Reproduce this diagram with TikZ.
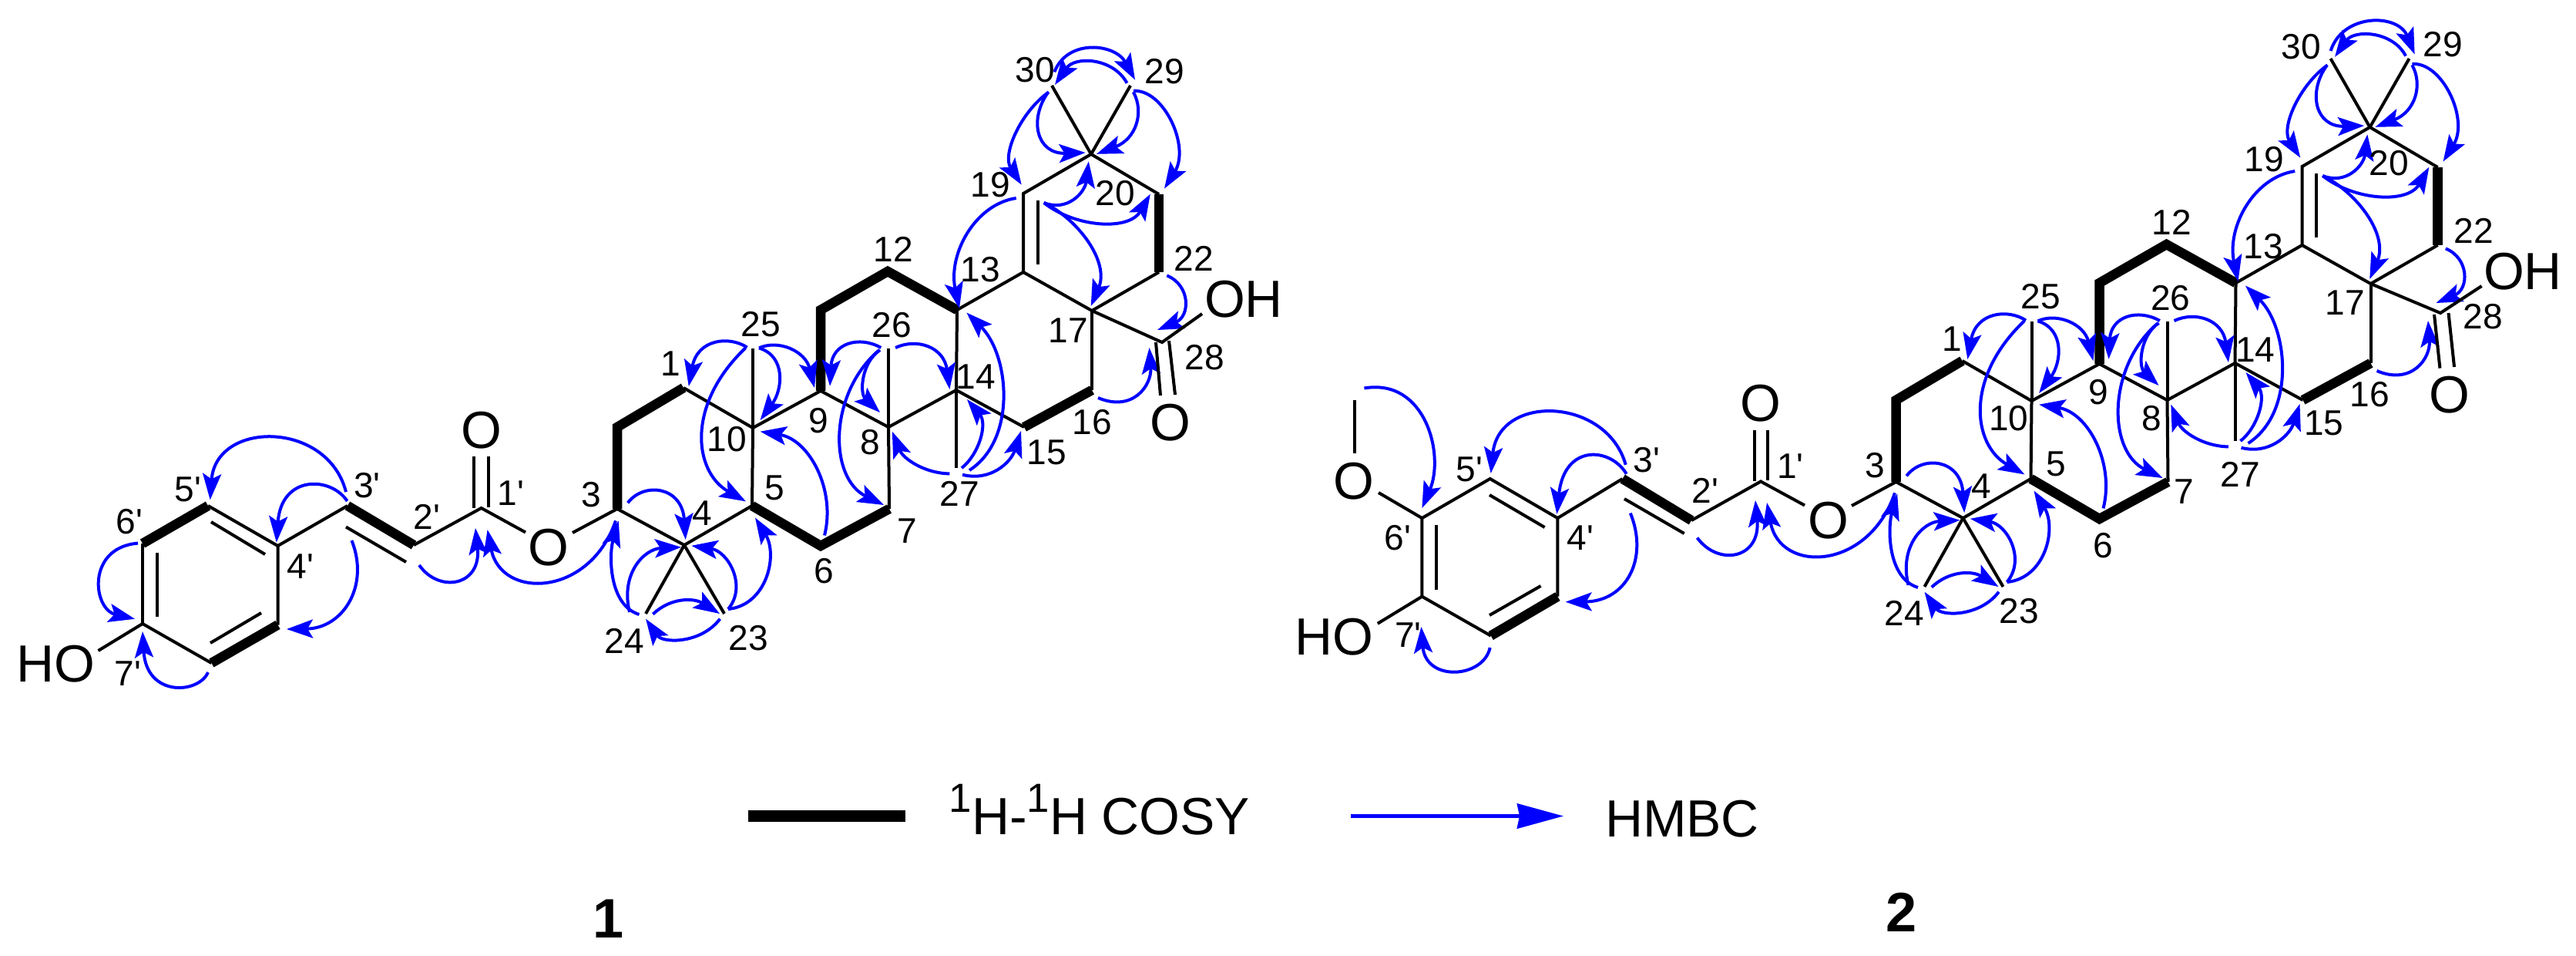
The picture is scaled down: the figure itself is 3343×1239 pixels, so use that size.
\documentclass[tikz,border=0pt]{standalone}
\usepackage{fontspec}
\usetikzlibrary{arrows.meta}
\newfontfamily\arialf{Liberation Sans}
\definecolor{hmbcblue}{RGB}{0,0,255}
\tikzset{
  x=0.01cm,y=-0.01cm,
  bond/.style={line width=0.04cm,black},
  cosy/.style={line width=0.125cm,black,line join=miter,miter limit=10},
  hmbc/.style={line width=0.04cm,hmbcblue,-{Stealth[length=0.34cm,width=0.24cm,inset=0.07cm]}},
  num/.style={font=\arialf\fontsize{13.1}{13.1}\selectfont,inner sep=0pt},
  atomlab/.style={font=\arialf\fontsize{19.3}{19.3}\selectfont,inner sep=0pt},
  boldlab/.style={font=\arialf\bfseries\fontsize{20.5}{20.5}\selectfont,inner sep=0pt},
}
% the triterpene skeleton, in the position it has in compound 1
\newcommand{\coreatoms}{
  \coordinate (C1) at (887,503); \coordinate (C2) at (801,554); \coordinate (C3) at (801,660);
  \coordinate (C4) at (888,707); \coordinate (C5) at (976,656); \coordinate (C6) at (1065,708);
  \coordinate (C7) at (1154,660); \coordinate (C8) at (1153,554); \coordinate (C9) at (1065,507);
  \coordinate (C10) at (977,555); \coordinate (C11) at (1065,402); \coordinate (C12) at (1152,352);
  \coordinate (C13) at (1242,402); \coordinate (C14) at (1241,506); \coordinate (C15) at (1329,554);
  \coordinate (C16) at (1417,506); \coordinate (C17) at (1417,403); \coordinate (C18) at (1328,353);
  \coordinate (C19) at (1328,251); \coordinate (C20) at (1416,200); \coordinate (C21) at (1504,252);
  \coordinate (C22) at (1504,353); \coordinate (C23) at (940,796); \coordinate (C24) at (838,796);
  \coordinate (C25) at (977,452); \coordinate (C26) at (1153,452); \coordinate (C27) at (1241,607);
  \coordinate (C29) at (1467,111); \coordinate (C30) at (1365,111);
  \coordinate (D19) at (1346.5,260); \coordinate (D18) at (1346.5,343);
}
\newcommand{\corebonds}{
  \draw[bond] (C1)--(C10)--(C5)--(C4)--(C3);
  \draw[bond] (C10)--(C9)--(C8)--(C7);
  \draw[bond] (C8)--(C14)--(C15);
  \draw[bond] (C14)--(C13)--(C18)--(C19)--(C20)--(C21);
  \draw[bond] (C18)--(C17)--(C22);
  \draw[bond] (C17)--(C16);
  \draw[bond] (D19)--(D18);
  \draw[bond] (C10)--(C25);
  \draw[bond] (C8)--(C26);
  \draw[bond] (C14)--(C27);
  \draw[bond] (C4)--(C23);
  \draw[bond] (C4)--(C24);
  \draw[bond] (C20)--(C29);
  \draw[bond] (C20)--(C30);
  \draw[cosy] (C3)--(C2)--(C1);
  \draw[cosy] (C5)--(C6)--(C7);
  \draw[cosy] (C9)--(C11)--(C12)--(C13);
  \draw[cosy] (C15)--(C16);
  \draw[cosy] (C21)--(C22);
}
\newcommand{\corearrows}{
  \draw[hmbc] (969.6,450.6) .. controls (946,435) and (905,440) .. (893.8,501);
  \draw[hmbc] (967.4,451.4) .. controls (890,525) and (900,612) .. (967.9,650.4);
  \draw[hmbc] (985,451.4) .. controls (1020,462) and (1016,505) .. (986.6,545);
  \draw[hmbc] (985,451.4) .. controls (1010,440) and (1045,455) .. (1057,503);
  \draw[hmbc] (1070,694.4) .. controls (1085,635) and (1050,570) .. (986.6,559.7);
  \draw[hmbc] (814.7,652.3) .. controls (835,625) and (885,630) .. (889.7,700);
  \draw[hmbc] (945,790) .. controls (995,785) and (1010,720) .. (980,671.5);
  \draw[hmbc] (945,790) .. controls (970,760) and (945,715) .. (897.3,707.8);
  \draw[hmbc] (817,794) .. controls (805,745) and (835,712) .. (884,709.7);
  \draw[hmbc] (829.5,797) .. controls (790,785) and (790,720) .. (802.7,675.3);
  \draw[hmbc] (847.3,796.6) .. controls (870,775) and (900,775) .. (934,796);
  \draw[hmbc] (934.4,802.7) .. controls (910,835) and (860,835) .. (838,802.7);
  \draw[hmbc] (1143.3,451) .. controls (1115,435) and (1080,445) .. (1077,500.8);
  \draw[hmbc] (1141,454) .. controls (1075,510) and (1075,620) .. (1147,655);
  \draw[hmbc] (1142,454) .. controls (1118,470) and (1115,510) .. (1142,535);
  \draw[hmbc] (1162,451) .. controls (1190,438) and (1225,450) .. (1232.4,505);
  \draw[hmbc] (1232.4,614.4) .. controls (1200,614) and (1172,595) .. (1157.8,559.7);
  \draw[hmbc] (1248,607) .. controls (1270,590) and (1282,550) .. (1255,518);
  \draw[hmbc] (1249,615.7) .. controls (1285,625) and (1312,600) .. (1325,559);
  \draw[hmbc] (1258,610) .. controls (1320,570) and (1310,460) .. (1254.4,405.5);
  \draw[hmbc] (1425,516) .. controls (1470,535) and (1495,500) .. (1491.5,451);
  \draw[hmbc] (1514.3,357.4) .. controls (1545,370) and (1545,410) .. (1502,428);
  \draw[hmbc] (1318.7,257) .. controls (1265,265) and (1230,330) .. (1245,400);
  \draw[hmbc] (1361,119.4) .. controls (1325,145) and (1300,200) .. (1325.7,239.6);
  \draw[hmbc] (1360,120) .. controls (1335,155) and (1345,200) .. (1408.6,198);
  \draw[hmbc] (1470.8,119.4) .. controls (1485,145) and (1475,180) .. (1423,199.8);
  \draw[hmbc] (1470.8,118) .. controls (1510,115) and (1545,190) .. (1511,244.6);
  \draw[hmbc] (1354.7,263) .. controls (1385,275) and (1408,250) .. (1412.8,209.4);
  \draw[hmbc] (1354.7,263) .. controls (1395,295) and (1465,300) .. (1492.8,251.7);
  \draw[hmbc] (1354.7,263) .. controls (1400,285) and (1440,340) .. (1415.7,397);
}
\begin{document}
\begin{tikzpicture}
\useasboundingbox (0,0) rectangle (3343,1239);

% ---------- compound 1 ----------
\begin{scope}[name prefix=a-]
  \coreatoms
  \corebonds
  \corearrows
\end{scope}
\coordinate (P6) at (185,705); \coordinate (P5) at (270,656); \coordinate (P4) at (360.5,708);
\coordinate (P3) at (451,656); \coordinate (P2) at (537,707); \coordinate (P1) at (624.6,659);
\coordinate (P7) at (185,809); \coordinate (P8) at (274.4,860); \coordinate (P9) at (360.5,810.5);
\node[atomlab] (aOtop) at (624.6,558) {O};
\node[atomlab] (aOest) at (712,710.5) {O};
\node[atomlab] (aHO) at (72,861) {HO};
\coordinate (aDa1) at (615,592); \coordinate (aDa2) at (615,659);
\coordinate (aDb1) at (634,592); \coordinate (aDb2) at (634,658);
\coordinate (aEs1) at (682,690.5); \coordinate (aEs2) at (743,691); \coordinate (aHOe) at (127.5,844);
\draw[bond] (P7)--(P8);
\draw[bond] (P6)--(P7);
\draw[bond] (P5)--(P4)--(P9);
\draw[bond] (P4)--(P3);
\draw[bond] (P2)--(P1)--(aEs1);
\draw[bond] (aEs2)--(a-C3);
\draw[bond] (aDa1)--(aDa2);
\draw[bond] (aDb1)--(aDb2);
\draw[bond] (P7)--(aHOe);
\coordinate (aI1) at (204,716.5); \coordinate (aI2) at (204,800);
\coordinate (aI3) at (274,677); \coordinate (aI4) at (344,719);
\coordinate (aI5) at (273,834); \coordinate (aI6) at (339,795);
\coordinate (aI7) at (449,683.5); \coordinate (aI8) at (527,729);
\draw[bond] (aI1)--(aI2);
\draw[bond] (aI3)--(aI4);
\draw[bond] (aI5)--(aI6);
\draw[bond] (aI7)--(aI8);
\draw[cosy] (P6)--(P5);
\draw[cosy] (P8)--(P9);
\draw[cosy] (P3)--(P2);
% carboxyl of 1
\coordinate (aC28) at (1508,444); \coordinate (aOHe) at (1560,407);
\coordinate (aK1) at (1500,444); \coordinate (aK2) at (1506,513);
\coordinate (aK3) at (1517,442); \coordinate (aK4) at (1525,512);
\draw[bond] (a-C17)--(aC28)--(aOHe);
\draw[bond] (aK1)--(aK2);
\draw[bond] (aK3)--(aK4);
\node[atomlab] (aOH) at (1614,388) {OH};
\node[atomlab] (aOk) at (1518.5,548) {O};
% arrows of the cinnamoyl part of 1
\draw[hmbc] (799,675.4) .. controls (765,775) and (650,778) .. (632.6,687);
\draw[hmbc] (544,733) .. controls (570,770) and (625,760) .. (617,685);
\draw[hmbc] (449,638) .. controls (425,545) and (280,545) .. (272.7,648.4);
\draw[hmbc] (450.6,650) .. controls (430,618) and (365,615) .. (358.8,703.5);
\draw[hmbc] (456.4,701) .. controls (480,760) and (445,815) .. (372,816);
\draw[hmbc] (179,704.6) .. controls (112,710) and (120,790) .. (175,802.8);
\draw[hmbc] (270,872) .. controls (258,900) and (190,905) .. (185,819);
\draw[hmbc] (1368.4,93.3) .. controls (1385,50) and (1447,56) .. (1473,103.6);
\draw[hmbc] (1462.5,107.8) .. controls (1445,75) and (1395,72) .. (1369,110);
% labels of 1
\node[num] (a5p) at (244,635) {5'};
\node[num] (a6p) at (168,677) {6'};
\node[num] (a3p) at (476.5,630) {3'};
\node[num] (a2p) at (554,670) {2'};
\node[num] (a1p) at (663,640) {1'};
\node[num] (a4p) at (390,735) {4'};
\node[num] (a7p) at (166,874) {7'};
\node[num] (a3) at (767,642) {3};
\node[num] (a1) at (870,472) {1};
\node[num] (a25) at (987.5,421) {25};
\node[num] (a10) at (943,570) {10};
\node[num] (a5) at (1005,633) {5};
\node[num] (a4) at (911,666) {4};
\node[num] (a24) at (810,831) {24};
\node[num] (a23) at (971,828) {23};
\node[num] (a6) at (1069,741) {6};
\node[num] (a7) at (1177,689) {7};
\node[num] (a9) at (1062.5,546) {9};
\node[num] (a8) at (1129,574) {8};
\node[num] (a26) at (1157,422) {26};
\node[num] (a14) at (1266,489) {14};
\node[num] (a27) at (1245,640) {27};
\node[num] (a15) at (1358,587) {15};
\node[num] (a16) at (1417,548) {16};
\node[num] (a17) at (1386,429) {17};
\node[num] (a13) at (1272,350) {13};
\node[num] (a12) at (1159,323) {12};
\node[num] (a19) at (1285.5,240) {19};
\node[num] (a20) at (1447,251) {20};
\node[num] (a22) at (1549,335) {22};
\node[num] (a28) at (1563,463.5) {28};
\node[num] (a29) at (1511,93) {29};
\node[num] (a30) at (1343.5,91) {30};

% ---------- compound 2 ----------
\begin{scope}[shift={(1659.5,-35)},name prefix=b-]
  \coreatoms
  \corebonds
  \corearrows
\end{scope}
\coordinate (Q6) at (1845.4,672); \coordinate (Q5) at (1933.7,621); \coordinate (Q4) at (2021.4,672);
\coordinate (Q3) at (2105.6,621); \coordinate (Q2) at (2195,675); \coordinate (Q1) at (2285,624.5);
\coordinate (Q7) at (1845.4,773.7); \coordinate (Q8) at (1934.7,824.6); \coordinate (Q9) at (2021.4,773.7);
\node[atomlab] (bOtop) at (2285,523) {O};
\node[atomlab] (bOest) at (2372.5,675.5) {O};
\node[atomlab] (bOme) at (1757,624) {O};
\node[atomlab] (bHO) at (1731,826) {HO};
\coordinate (bDa1) at (2276.5,558); \coordinate (bDa2) at (2276.5,624);
\coordinate (bDb1) at (2294,558); \coordinate (bDb2) at (2294,623);
\coordinate (bEs1) at (2342,655.5); \coordinate (bEs2) at (2403,656);
\coordinate (bHOe) at (1787.8,808.8); \coordinate (bMe1) at (1757.6,519); \coordinate (bMe2) at (1757.6,588);
\coordinate (bOme2) at (1789,639);
\draw[bond] (Q6)--(Q5)--(Q4)--(Q9);
\draw[bond] (Q6)--(Q7)--(Q8);
\draw[bond] (Q4)--(Q3);
\draw[bond] (Q2)--(Q1)--(bEs1);
\draw[bond] (bEs2)--(b-C3);
\draw[bond] (bDa1)--(bDa2);
\draw[bond] (bDb1)--(bDb2);
\draw[bond] (Q7)--(bHOe);
\draw[bond] (Q6)--(bOme2);
\draw[bond] (bMe1)--(bMe2);
\coordinate (bI1) at (1864.3,681.4); \coordinate (bI2) at (1864.3,765);
\coordinate (bI3) at (1933,642); \coordinate (bI4) at (2004.6,684);
\coordinate (bI5) at (1933,798); \coordinate (bI6) at (1999.5,760);
\coordinate (bI7) at (2108,647); \coordinate (bI8) at (2185.7,692);
\draw[bond] (bI1)--(bI2);
\draw[bond] (bI3)--(bI4);
\draw[bond] (bI5)--(bI6);
\draw[bond] (bI7)--(bI8);
\draw[cosy] (Q8)--(Q9);
\draw[cosy] (Q3)--(Q2);
% carboxyl of 2
\coordinate (bC28) at (3167,406); \coordinate (bOHe) at (3220.5,371);
\coordinate (bK1) at (3159,408); \coordinate (bK2) at (3166.4,477.6);
\coordinate (bK3) at (3177.5,406); \coordinate (bK4) at (3185,476);
\draw[bond] (b-C17)--(bC28)--(bOHe);
\draw[bond] (bK1)--(bK2);
\draw[bond] (bK3)--(bK4);
\node[atomlab] (bOH) at (3274,352.4) {OH};
\node[atomlab] (bOk) at (3178.7,512) {O};
% arrows of the feruloyl part of 2
\draw[hmbc] (1770.4,503.5) .. controls (1850,490) and (1875,590) .. (1845.4,659);
\draw[hmbc] (2109.7,602.8) .. controls (2085,515) and (1945,510) .. (1934.7,614);
\draw[hmbc] (2110.7,614.7) .. controls (2090,580) and (2030,575) .. (2020.4,666.7);
\draw[hmbc] (2115.8,665.6) .. controls (2140,725) and (2110,780) .. (2031.6,780.7);
\draw[hmbc] (2202.5,697.5) .. controls (2230,735) and (2285,725) .. (2278,649);
\draw[hmbc] (2459,639.3) .. controls (2425,740) and (2310,745) .. (2293,652);
\draw[hmbc] (1933.7,840) .. controls (1925,880) and (1850,885) .. (1844.4,813);
\draw[hmbc] (3024.6,66) .. controls (3040,17) and (3112,17) .. (3133.6,70.5);
\draw[hmbc] (3122,72.6) .. controls (3105,40) and (3055,38) .. (3030,73.8);
% labels of 2
\node[num] (b5p) at (1906.6,609) {5'};
\node[num] (b6p) at (1814,697.5) {6'};
\node[num] (b3p) at (2137,596.5) {3'};
\node[num] (b2p) at (2212.8,636) {2'};
\node[num] (b1p) at (2323.5,605) {1'};
\node[num] (b4p) at (2051,698) {4'};
\node[num] (b7p) at (1827.5,824) {7'};
\node[num] (b3) at (2433.5,604) {3};
\node[num] (b1) at (2533,440) {1};
\node[num] (b25) at (2648,385) {25};
\node[num] (b10) at (2606.7,543) {10};
\node[num] (b5) at (2668,602) {5};
\node[num] (b4) at (2571.5,631) {4};
\node[num] (b24) at (2471,795.6) {24};
\node[num] (b23) at (2620.5,793) {23};
\node[num] (b6) at (2729,707.6) {6};
\node[num] (b7) at (2834,638) {7};
\node[num] (b9) at (2723.5,508.5) {9};
\node[num] (b8) at (2792,543) {8};
\node[num] (b26) at (2816.8,386.4) {26};
\node[num] (b14) at (2926.6,454) {14};
\node[num] (b27) at (2907,615) {27};
\node[num] (b15) at (3015.6,549) {15};
\node[num] (b16) at (3075,512) {16};
\node[num] (b17) at (3043,393) {17};
\node[num] (b13) at (2937,320) {13};
\node[num] (b12) at (2818,288) {12};
\node[num] (b19) at (2938.5,206.5) {19};
\node[num] (b20) at (3100,211.4) {20};
\node[num] (b22) at (3210,299.3) {22};
\node[num] (b28) at (3222.5,410.4) {28};
\node[num] (b29) at (3170.5,58) {29};
\node[num] (b30) at (2986,61) {30};

% ---------- legend ----------
\coordinate (LgA) at (971,1058); \coordinate (LgB) at (1175,1058);
\draw[line width=0.15cm,black] (LgA)--(LgB);
\node[atomlab,anchor=base west] (LgCosy) at (1231,1082)
  {\raisebox{8.2pt}{\fontsize{15}{15}\selectfont 1}H-\raisebox{8.2pt}{\fontsize{15}{15}\selectfont 1}H COSY};
\coordinate (LgC) at (1753,1058.5); \coordinate (LgD) at (2029,1058.5);
\draw[line width=0.05cm,hmbcblue,-{Stealth[length=0.6cm,width=0.32cm,inset=0.03cm]}] (LgC)--(LgD);
\node[atomlab] (LgHmbc) at (2183,1062) {HMBC};
\node[boldlab] (Lg1) at (790,1192) {1};
\node[boldlab] (Lg2) at (2468,1183) {2};
\end{tikzpicture}
\end{document}
